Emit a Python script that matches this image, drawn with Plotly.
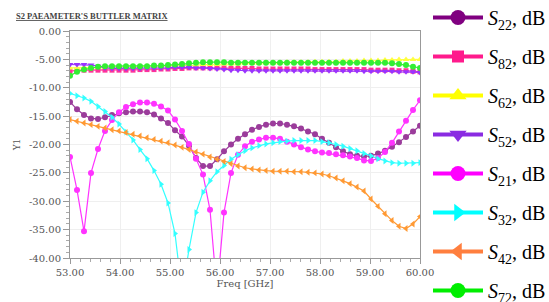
import plotly.graph_objects as go

# Frequency sampling points [GHz]
freq = [53.00, 53.14, 53.28, 53.42, 53.56, 53.70, 53.84, 53.98, 54.12, 54.26,
        54.40, 54.54, 54.68, 54.82, 54.96, 55.10, 55.24, 55.38, 55.52, 55.66,
        55.80, 55.94, 56.08, 56.22, 56.36, 56.50, 56.64, 56.78, 56.92, 57.06,
        57.20, 57.34, 57.48, 57.62, 57.76, 57.90, 58.04, 58.18, 58.32, 58.46,
        58.60, 58.74, 58.88, 59.02, 59.16, 59.30, 59.44, 59.58, 59.72, 59.86,
        60.00]

s22 = [-12.5, -13.8, -14.8, -15.4, -15.5, -15.2, -14.8, -14.5, -14.3, -14.2,
       -14.2, -14.3, -14.7, -15.4, -16.2, -17.5, -18.6, -20.2, -22.4, -23.8,
       -23.8, -22.6, -21.2, -20.0, -19.0, -18.2, -17.4, -16.9, -16.5, -16.3,
       -16.3, -16.5, -16.8, -17.2, -17.7, -18.2, -19.0, -19.7, -20.5, -21.2,
       -21.7, -22.0, -22.1, -22.0, -21.6, -21.1, -20.4, -19.6, -18.7, -17.7,
       -16.7]

s82 = [-7.1, -6.9, -6.9, -6.9, -6.9, -6.9, -6.9, -6.9, -6.9, -6.9,
       -6.8, -6.8, -6.8, -6.7, -6.7, -6.6, -6.6, -6.5, -6.5, -6.5,
       -6.5, -6.5, -6.5, -6.6, -6.6, -6.6, -6.6, -6.7, -6.7, -6.7,
       -6.7, -6.7, -6.7, -6.7, -6.7, -6.8, -6.8, -6.8, -6.8, -6.8,
       -6.8, -6.8, -6.8, -6.9, -6.9, -6.9, -6.9, -7.0, -7.0, -7.1,
       -7.2]

s62 = [-6.5, -6.5, -6.4, -6.4, -6.4, -6.4, -6.4, -6.3, -6.3, -6.3,
       -6.3, -6.2, -6.2, -6.2, -6.1, -6.1, -6.0, -6.0, -6.0, -5.9,
       -5.9, -5.9, -5.8, -5.8, -5.8, -5.7, -5.7, -5.7, -5.6, -5.6,
       -5.6, -5.5, -5.5, -5.5, -5.5, -5.4, -5.4, -5.4, -5.4, -5.3,
       -5.3, -5.3, -5.2, -5.2, -5.2, -5.1, -5.1, -5.0, -5.0, -5.0,
       -5.0]

s52 = [-5.9, -5.9, -5.9, -6.0, -6.2, -6.5, -6.6, -6.6, -6.6, -6.6,
       -6.6, -6.5, -6.5, -6.5, -6.5, -6.4, -6.4, -6.4, -6.5, -6.5,
       -6.6, -6.7, -6.8, -6.9, -6.9, -7.0, -7.0, -7.0, -7.0, -7.0,
       -7.0, -7.0, -7.0, -7.0, -7.0, -7.0, -7.0, -7.0, -7.0, -7.0,
       -7.0, -7.0, -7.1, -7.1, -7.1, -7.1, -7.1, -7.2, -7.2, -7.2,
       -7.3]

s21 = [-22.2, -28.0, -35.3, -25.0, -20.8, -17.6, -15.7, -14.3, -13.4, -12.9,
       -12.6, -12.6, -12.8, -13.3, -14.0, -15.6, -17.6, -19.9, -22.5, -25.3,
       -31.5, -46.0, -32.0, -25.0, -21.8, -20.3, -19.5, -19.1, -18.8, -18.8,
       -19.0, -19.5, -20.0, -20.5, -20.9, -21.2, -21.4, -21.5, -21.7, -21.9,
       -22.1, -22.4, -22.8, -22.9, -22.4, -21.3, -19.7, -17.7, -15.8, -13.9,
       -12.2]

s32 = [-11.0, -11.4, -11.8, -12.4, -13.3, -14.2, -15.2, -16.4, -17.8, -19.2,
       -20.9, -22.5, -24.6, -27.0, -30.3, -35.7, -46.0, -38.5, -32.0, -28.4,
       -26.4, -24.8, -23.7, -22.6, -21.8, -21.1, -20.6, -20.2, -19.9, -19.7,
       -19.5, -19.4, -19.3, -19.3, -19.3, -19.3, -19.5, -19.7, -20.0, -20.3,
       -20.7, -21.1, -21.6, -22.0, -22.5, -22.9, -23.2, -23.3, -23.3, -23.3,
       -23.2]

s42 = [-15.6, -15.9, -16.2, -16.5, -16.8, -17.1, -17.4, -17.6, -17.9, -18.2,
       -18.5, -18.8, -19.1, -19.4, -19.7, -20.1, -20.5, -20.9, -21.3, -21.7,
       -22.2, -22.6, -23.0, -23.4, -23.8, -24.1, -24.3, -24.5, -24.6, -24.7,
       -24.7, -24.7, -24.8, -24.8, -24.9, -25.0, -25.2, -25.5, -25.9, -26.4,
       -26.9, -27.5, -28.2, -29.6, -30.9, -32.2, -33.4, -34.4, -34.8, -34.0,
       -32.7]

s72 = [-7.9, -7.2, -6.8, -6.5, -6.3, -6.2, -6.2, -6.2, -6.2, -6.2,
       -6.2, -6.2, -6.1, -6.1, -6.0, -5.9, -5.8, -5.7, -5.6, -5.5,
       -5.5, -5.5, -5.5, -5.6, -5.6, -5.6, -5.6, -5.6, -5.6, -5.6,
       -5.6, -5.6, -5.6, -5.6, -5.6, -5.6, -5.6, -5.6, -5.6, -5.6,
       -5.6, -5.6, -5.6, -5.6, -5.6, -5.6, -5.7, -5.8, -6.0, -6.3,
       -6.5]

names = ["22", "82", "62", "52", "21", "32", "42", "72"]
values = [s22, s82, s62, s52, s21, s32, s42, s72]
line_colors = ["#9b3c9b", "#ff3399", "#ffff40", "#9933ff", "#ff33ff", "#33ffff", "#ff9933", "#33ee33"]
legend_colors = ["#800080", "#ff1a8c", "#ffff00", "#8a2be2", "#ff00ff", "#00ffff", "#ff7f3f", "#00ee00"]
symbols = ["circle", "square", "triangle-up", "triangle-down", "circle",
           "triangle-right", "triangle-left", "circle"]
msizes = [6, 5, 6, 6, 6, 6, 6, 6]

xticks = [53, 54, 55, 56, 57, 58, 59, 60]
yticks = [0, -5, -10, -15, -20, -25, -30, -35, -40]

fig = go.Figure()
for nm, ys, lc, sym, ms in zip(names, values, line_colors, symbols, msizes):
    fig.add_trace(go.Scatter(
        x=freq, y=ys, mode="lines+markers", showlegend=False,
        line=dict(color=lc, width=1.2),
        marker=dict(symbol=sym, size=ms, color=lc, line=dict(width=0)),
    ))

for i, (nm, lc, sym) in enumerate(zip(names, legend_colors, symbols)):
    fig.add_trace(go.Scatter(
        x=[None], y=[None], mode="lines+markers",
        name=f"<i>S</i><sub>{nm}</sub>, dB", legendgroup=f"g{i}",
        line=dict(color=lc, width=4),
        marker=dict(symbol=sym, size=15 if sym != "square" else 12, color=lc, line=dict(width=0)),
    ))

axis_font = dict(family="DejaVu Serif", size=10, color="#555555")

fig.update_layout(
    width=549, height=302,
    margin=dict(l=70, r=129, t=31, b=44, autoexpand=False),
    paper_bgcolor="white", plot_bgcolor="white",
    title=dict(text="<b><u>S2 PAEAMETER'S BUTTLER MATRIX</u></b>",
               x=16 / 549, xanchor="left", xref="container",
               y=1 - 16 / 302, yanchor="middle", yref="container",
               pad=dict(l=0, r=0, t=0, b=0),
               font=dict(family="Liberation Serif", size=8.5, color="#444444")),
    xaxis=dict(
        range=[53, 60], tickvals=xticks, ticktext=[f"{v:.2f}" for v in xticks],
        tickfont=axis_font, showgrid=True, gridcolor="#efefef", gridwidth=1,
        showline=True, linecolor="#999999", linewidth=1, mirror=True,
        ticks="outside", ticklen=5, tickcolor="#999999",
        minor=dict(dtick=0.2, ticks="outside", ticklen=3, tickcolor="#aaaaaa", showgrid=False),
        zeroline=False, automargin=False,
        title=dict(text="Freq [GHz]", standoff=2,
                   font=dict(family="DejaVu Serif", size=10, color="#555555")),
    ),
    yaxis=dict(
        range=[-40, 0], tickvals=yticks, ticktext=[f"{v:.2f}" for v in yticks],
        tickfont=axis_font, showgrid=True, gridcolor="#efefef", gridwidth=1,
        showline=True, linecolor="#999999", linewidth=1, mirror=True,
        ticks="outside", ticklen=6, tickcolor="#999999",
        minor=dict(dtick=1, ticks="outside", ticklen=3, tickcolor="#aaaaaa", showgrid=False),
        zeroline=False, automargin=False,
        title=dict(text="Y1", standoff=6,
                   font=dict(family="DejaVu Serif", size=9, color="#555555")),
    ),
    legend=dict(
        x=1.0 + 8 / 350, xanchor="left", y=1 + 33 / 227, yanchor="top",
        font=dict(family="Liberation Serif", size=20, color="#000000"),
        tracegroupgap=10, bgcolor="rgba(0,0,0,0)", itemsizing="trace",
        itemwidth=50, maxheight=1000,
    ),
)

fig.write_html("out.html", config={"displayModeBar": False},
               post_script="document.body.style.margin='0';")
